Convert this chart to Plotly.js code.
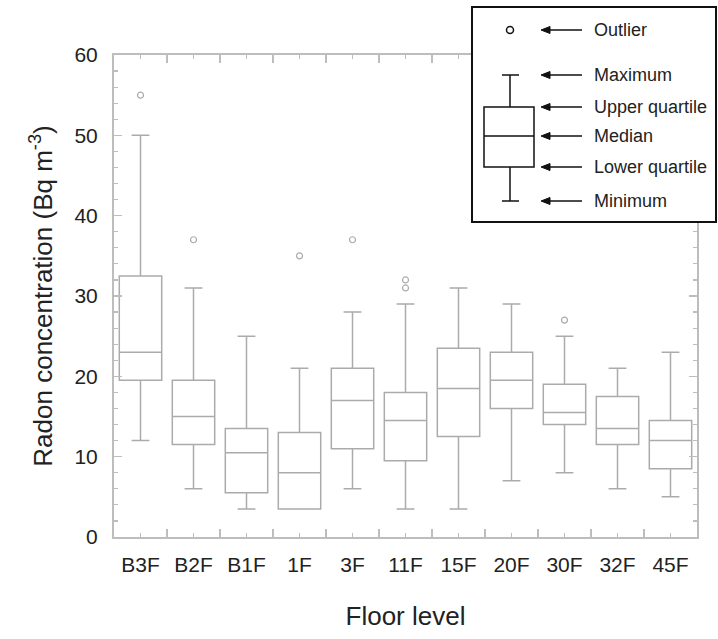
<!DOCTYPE html>
<html>
<head>
<meta charset="utf-8">
<script src="https://cdn.plot.ly/plotly-3.0.1.min.js"></script>
<style>html,body{margin:0;padding:0;background:#fff;}#chart{width:718px;height:639px;}</style>
</head>
<body>
<div id="chart"></div>
<script>
// ---- data ----
var floors = ["B3F","B2F","B1F","1F","3F","11F","15F","20F","30F","32F","45F"];
var minimum = [12, 6, 3.5, 3.5, 6, 3.5, 3.5, 7, 8, 6, 5];
var lowerQuartile = [19.5, 11.5, 5.5, 3.5, 11, 9.5, 12.5, 16, 14, 11.5, 8.5];
var medianVals = [23, 15, 10.5, 8, 17, 14.5, 18.5, 19.5, 15.5, 13.5, 12];
var upperQuartile = [32.5, 19.5, 13.5, 13, 21, 18, 23.5, 23, 19, 17.5, 14.5];
var maximum = [50, 31, 25, 21, 28, 29, 31, 29, 25, 21, 23];
var outlierFloor = ["B3F","B2F","1F","3F","11F","11F","30F"];
var outlierValue = [55, 37, 35, 37, 32, 31, 27];
var legendLabels = ["Outlier","Maximum","Upper quartile","Median","Lower quartile","Minimum"];

// ---- layout geometry ----
var W = 718, H = 639;
var M = {l: 114, r: 21, t: 55, b: 102};
var PW = W - M.l - M.r, PH = H - M.t - M.b;
function px(x){ return (x - M.l) / PW; }
function py(y){ return (H - M.b - y) / PH; }

var xIdx = floors.map(function(f, i){ return i; });
var outX = outlierFloor.map(function(f){ return floors.indexOf(f); });

var gray = "#ababab";
var traces = [
  {
    type: "box",
    x: xIdx,
    q1: lowerQuartile,
    median: medianVals,
    q3: upperQuartile,
    lowerfence: minimum,
    upperfence: maximum,
    width: 0.8,
    whiskerwidth: 0.42,
    fillcolor: "#ffffff",
    line: {color: gray, width: 1.5},
    boxpoints: false,
    showlegend: false,
    hoverinfo: "skip"
  },
  {
    type: "scatter",
    mode: "markers",
    x: outX,
    y: outlierValue,
    marker: {symbol: "circle-open", size: 6, color: gray, line: {width: 1.2, color: gray}},
    showlegend: false,
    hoverinfo: "skip"
  }
];

// legend key drawn as shapes/annotations
var k = "#111";
var rowY = [30, 75, 107, 136, 167, 201];
var shapes = [
  {type: "rect", xref: "paper", yref: "paper", x0: px(472), x1: px(716), y0: py(222), y1: py(7),
   fillcolor: "#ffffff", line: {color: "#111", width: 2}, layer: "above"},
  {type: "circle", xref: "paper", yref: "paper", x0: px(506.5), x1: px(513.5), y0: py(33.5), y1: py(26.5),
   line: {color: k, width: 1.5}, layer: "above"},
  {type: "rect", xref: "paper", yref: "paper", x0: px(484), x1: px(534), y0: py(167), y1: py(107),
   line: {color: k, width: 1.5}, layer: "above"},
  {type: "line", xref: "paper", yref: "paper", x0: px(484), x1: px(534), y0: py(136), y1: py(136),
   line: {color: k, width: 1.5}, layer: "above"},
  {type: "line", xref: "paper", yref: "paper", x0: px(510), x1: px(510), y0: py(107), y1: py(75),
   line: {color: k, width: 1.5}, layer: "above"},
  {type: "line", xref: "paper", yref: "paper", x0: px(510), x1: px(510), y0: py(201), y1: py(167),
   line: {color: k, width: 1.5}, layer: "above"},
  {type: "line", xref: "paper", yref: "paper", x0: px(502), x1: px(519), y0: py(75), y1: py(75),
   line: {color: k, width: 1.5}, layer: "above"},
  {type: "line", xref: "paper", yref: "paper", x0: px(502), x1: px(519), y0: py(201), y1: py(201),
   line: {color: k, width: 1.5}, layer: "above"}
];
var annotations = [];
legendLabels.forEach(function(lbl, i){
  var y = rowY[i];
  shapes.push({type: "line", xref: "paper", yref: "paper", x0: px(548), x1: px(582), y0: py(y), y1: py(y),
    line: {color: k, width: 1.5}, layer: "above"});
  shapes.push({type: "path", xref: "paper", yref: "paper",
    path: "M" + px(541) + "," + py(y) + " L" + px(550) + "," + py(y - 3.5) + " L" + px(550) + "," + py(y + 3.5) + " Z",
    fillcolor: k, line: {color: k, width: 1}, layer: "above"});
  annotations.push({xref: "paper", yref: "paper", x: px(592), y: py(y), xanchor: "left", yanchor: "middle",
    text: lbl, showarrow: false, font: {family: "Liberation Sans, Arial, sans-serif", size: 18, color: "#222"}});
});

var axisColor = "#bdbdbd";
var layout = {
  width: W, height: H,
  margin: M,
  paper_bgcolor: "#fff", plot_bgcolor: "#fff",
  font: {family: "Liberation Sans, Arial, sans-serif", color: "#222"},
  xaxis: {
    range: [-0.5, 10.5],
    tickmode: "array", tickvals: xIdx, ticktext: floors,
    ticks: "inside", ticklen: 4, tickwidth: 1.2, tickcolor: axisColor,
    minor: {tickmode: "linear", tick0: 0.5, dtick: 1, ticks: "inside", ticklen: 8, tickwidth: 1.2, tickcolor: axisColor},
    showline: true, linecolor: axisColor, linewidth: 2, mirror: "ticks",
    showgrid: false, zeroline: false,
    tickfont: {size: 21, color: "#222"},
    ticklabelstandoff: 8,
    title: {text: "Floor level", font: {size: 26, color: "#222"}, standoff: 32}
  },
  yaxis: {
    range: [0, 60],
    tickmode: "linear", tick0: 0, dtick: 10,
    ticks: "inside", ticklen: 8, tickwidth: 1.2, tickcolor: axisColor,
    minor: {tickmode: "linear", tick0: 0, dtick: 2, ticks: "inside", ticklen: 4, tickwidth: 1.2, tickcolor: axisColor},
    showline: true, linecolor: axisColor, linewidth: 2, mirror: "ticks",
    showgrid: false, zeroline: false,
    tickfont: {size: 21, color: "#222"},
    ticklabelstandoff: 10,
    title: {text: "Radon concentration (Bq m<sup>-3</sup>)", font: {size: 26, color: "#222"}, standoff: 14}
  },
  shapes: shapes,
  annotations: annotations
};

Plotly.newPlot("chart", traces, layout, {displayModeBar: false, staticPlot: true});
</script>
</body>
</html>
